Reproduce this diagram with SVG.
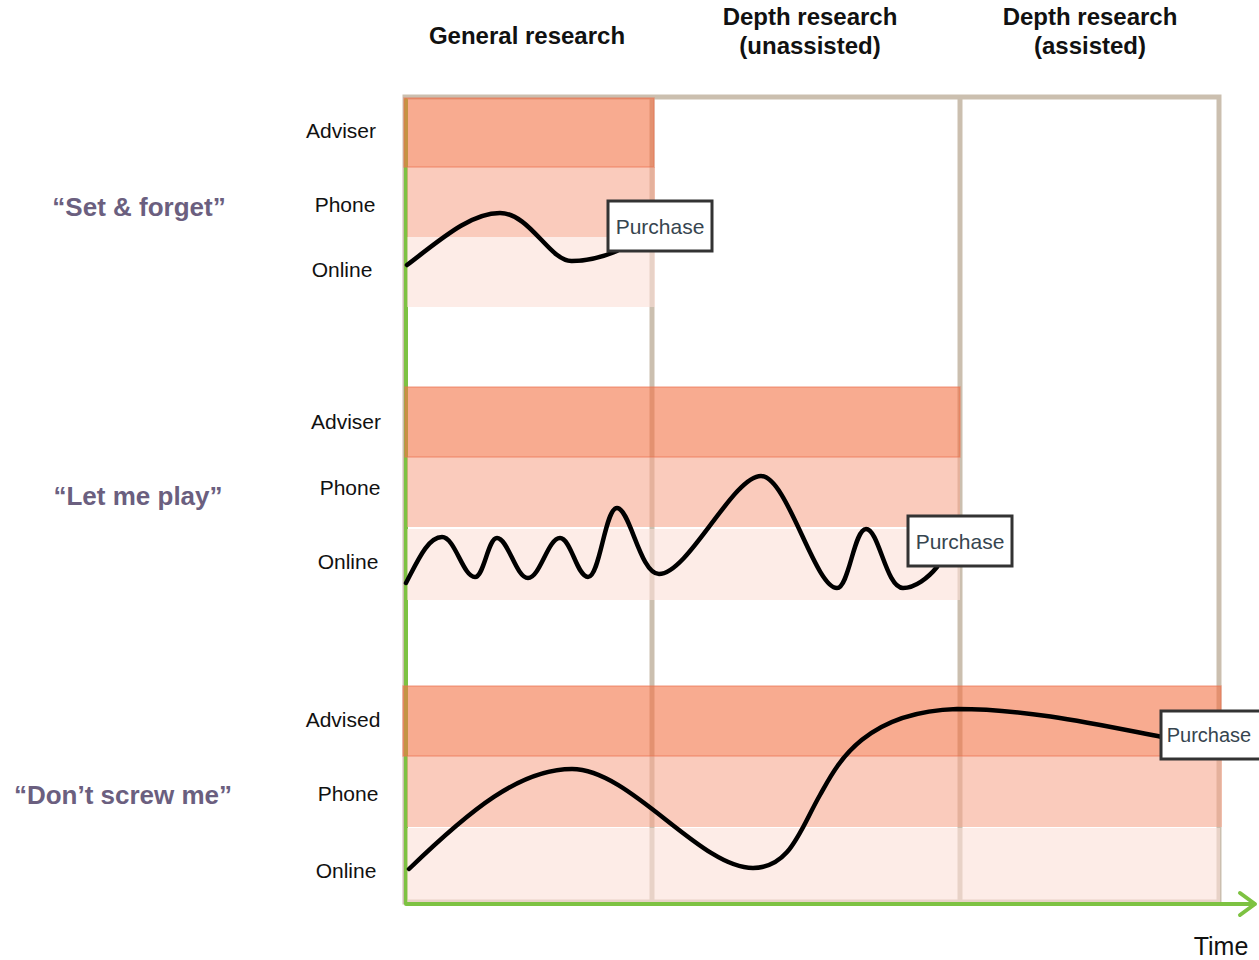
<svg xmlns="http://www.w3.org/2000/svg" width="1259" height="960" viewBox="0 0 1259 960">
<style>
.hdr{font-family:"Liberation Sans",Arial,sans-serif;font-size:24px;font-weight:bold;fill:#111;text-anchor:middle}
.lbl{font-family:"Liberation Sans",Arial,sans-serif;font-size:21px;fill:#111;text-anchor:middle}
.quote{font-family:"Liberation Sans",Arial,sans-serif;font-size:26px;font-weight:bold;fill:#6B5F7F;text-anchor:middle}
.ptxt{font-family:"Liberation Sans",Arial,sans-serif;font-size:21px;fill:#36454F;text-anchor:middle}
.time{font-family:"Liberation Sans",Arial,sans-serif;font-size:25px;fill:#111;text-anchor:middle}
.frame{fill:none;stroke:#CBBFAF;stroke-width:5}
.adv{fill:#F37346;fill-opacity:0.6;stroke:#EC7452;stroke-opacity:0.5;stroke-width:1.5}
.phone{fill:#F7A88F;fill-opacity:0.6}
.online{fill:#FCDFD7;fill-opacity:0.6}
.curve{fill:none;stroke:#000;stroke-width:4.5;stroke-linecap:round;stroke-linejoin:round}
.pbox{fill:#fff;stroke:#333;stroke-width:3}
.axis{fill:none;stroke:#7DC242;stroke-width:4;stroke-linecap:round;stroke-linejoin:round}
</style>
<rect width="1259" height="960" fill="#fff"/>
<g id="headers">
<text class="hdr" x="527" y="44">General research</text>
<text class="hdr" x="810" y="25">Depth research</text>
<text class="hdr" x="810" y="54">(unassisted)</text>
<text class="hdr" x="1090" y="25">Depth research</text>
<text class="hdr" x="1090" y="54">(assisted)</text>
</g>
<g id="frame">
<rect class="frame" x="405" y="97" width="814" height="805"/>
<line class="frame" x1="652" y1="97" x2="652" y2="902"/>
<line class="frame" x1="960" y1="97" x2="960" y2="902"/>
</g>
<g id="axes">
<polyline class="axis" points="406,100 406,904 1254,904"/>
<polyline class="axis" points="1240,893 1255,904 1240,915"/>
<text class="time" x="1221" y="955">Time</text>
</g>
<g id="row-set-forget">
<rect class="online" x="407" y="237" width="248" height="70"/>
<rect class="phone" x="407" y="167" width="248" height="70"/>
<rect class="adv" x="404" y="98" width="250" height="69"/>
<text class="quote" x="139" y="216">“Set &amp; forget”</text>
<text class="lbl" x="341" y="138">Adviser</text>
<text class="lbl" x="345" y="212">Phone</text>
<text class="lbl" x="342" y="277">Online</text>
</g>
<g id="row-let-me-play">
<rect class="online" x="407" y="529" width="553" height="71"/>
<rect class="phone" x="407" y="457" width="553" height="70"/>
<rect class="adv" x="405" y="387" width="555" height="70"/>
<text class="quote" x="138" y="505">“Let me play”</text>
<text class="lbl" x="346" y="429">Adviser</text>
<text class="lbl" x="350" y="495">Phone</text>
<text class="lbl" x="348" y="569">Online</text>
</g>
<g id="row-dont-screw-me">
<rect class="online" x="407" y="828" width="813" height="74"/>
<rect class="phone" x="407" y="756" width="815" height="71"/>
<rect class="adv" x="403" y="686" width="818" height="70"/>
<text class="quote" x="123" y="804">“Don’t screw me”</text>
<text class="lbl" x="343" y="727">Advised</text>
<text class="lbl" x="348" y="801">Phone</text>
<text class="lbl" x="346" y="878">Online</text>
</g>
<g id="connectors">
<path class="curve" d="M407,265 C440,240 470,213 500,213 C530,213 550,262 572,261 C590,261 605,256 617,251"/>
<path class="curve" d="M406,583 C418,560 428,537 442,537 C455,537 463,577 475,577 C484,577 488,538 497,538 C508,538 516,578 528,578 C540,578 548,538 560,538 C571,538 577,577 588,577 C600,577 605,508 617,508 C630,508 640,574 659,574 C688,574 733,476 761,476 C787,476 815,588 837,588 C849,588 854,529 866,529 C879,529 886,588 903,588 C915,588 928,578 937,567"/>
<path class="curve" d="M409,869 C470,810 520,769 572,769 C630,769 700,868 753,868 C790,868 800,830 820,795 C835,769 860,712 957,709 C1030,709 1100,725 1162,737"/>
</g>
<g id="purchase-1">
<rect class="pbox" x="608" y="201" width="104" height="50"/>
<text class="ptxt" x="660" y="234">Purchase</text>
</g>
<g id="purchase-2">
<rect class="pbox" x="908" y="516" width="104" height="50"/>
<text class="ptxt" x="960" y="549">Purchase</text>
</g>
<g id="purchase-3">
<rect class="pbox" x="1161" y="711" width="104" height="48"/>
<text class="ptxt" x="1209" y="742" style="font-size:20px">Purchase</text>
</g>
</svg>
